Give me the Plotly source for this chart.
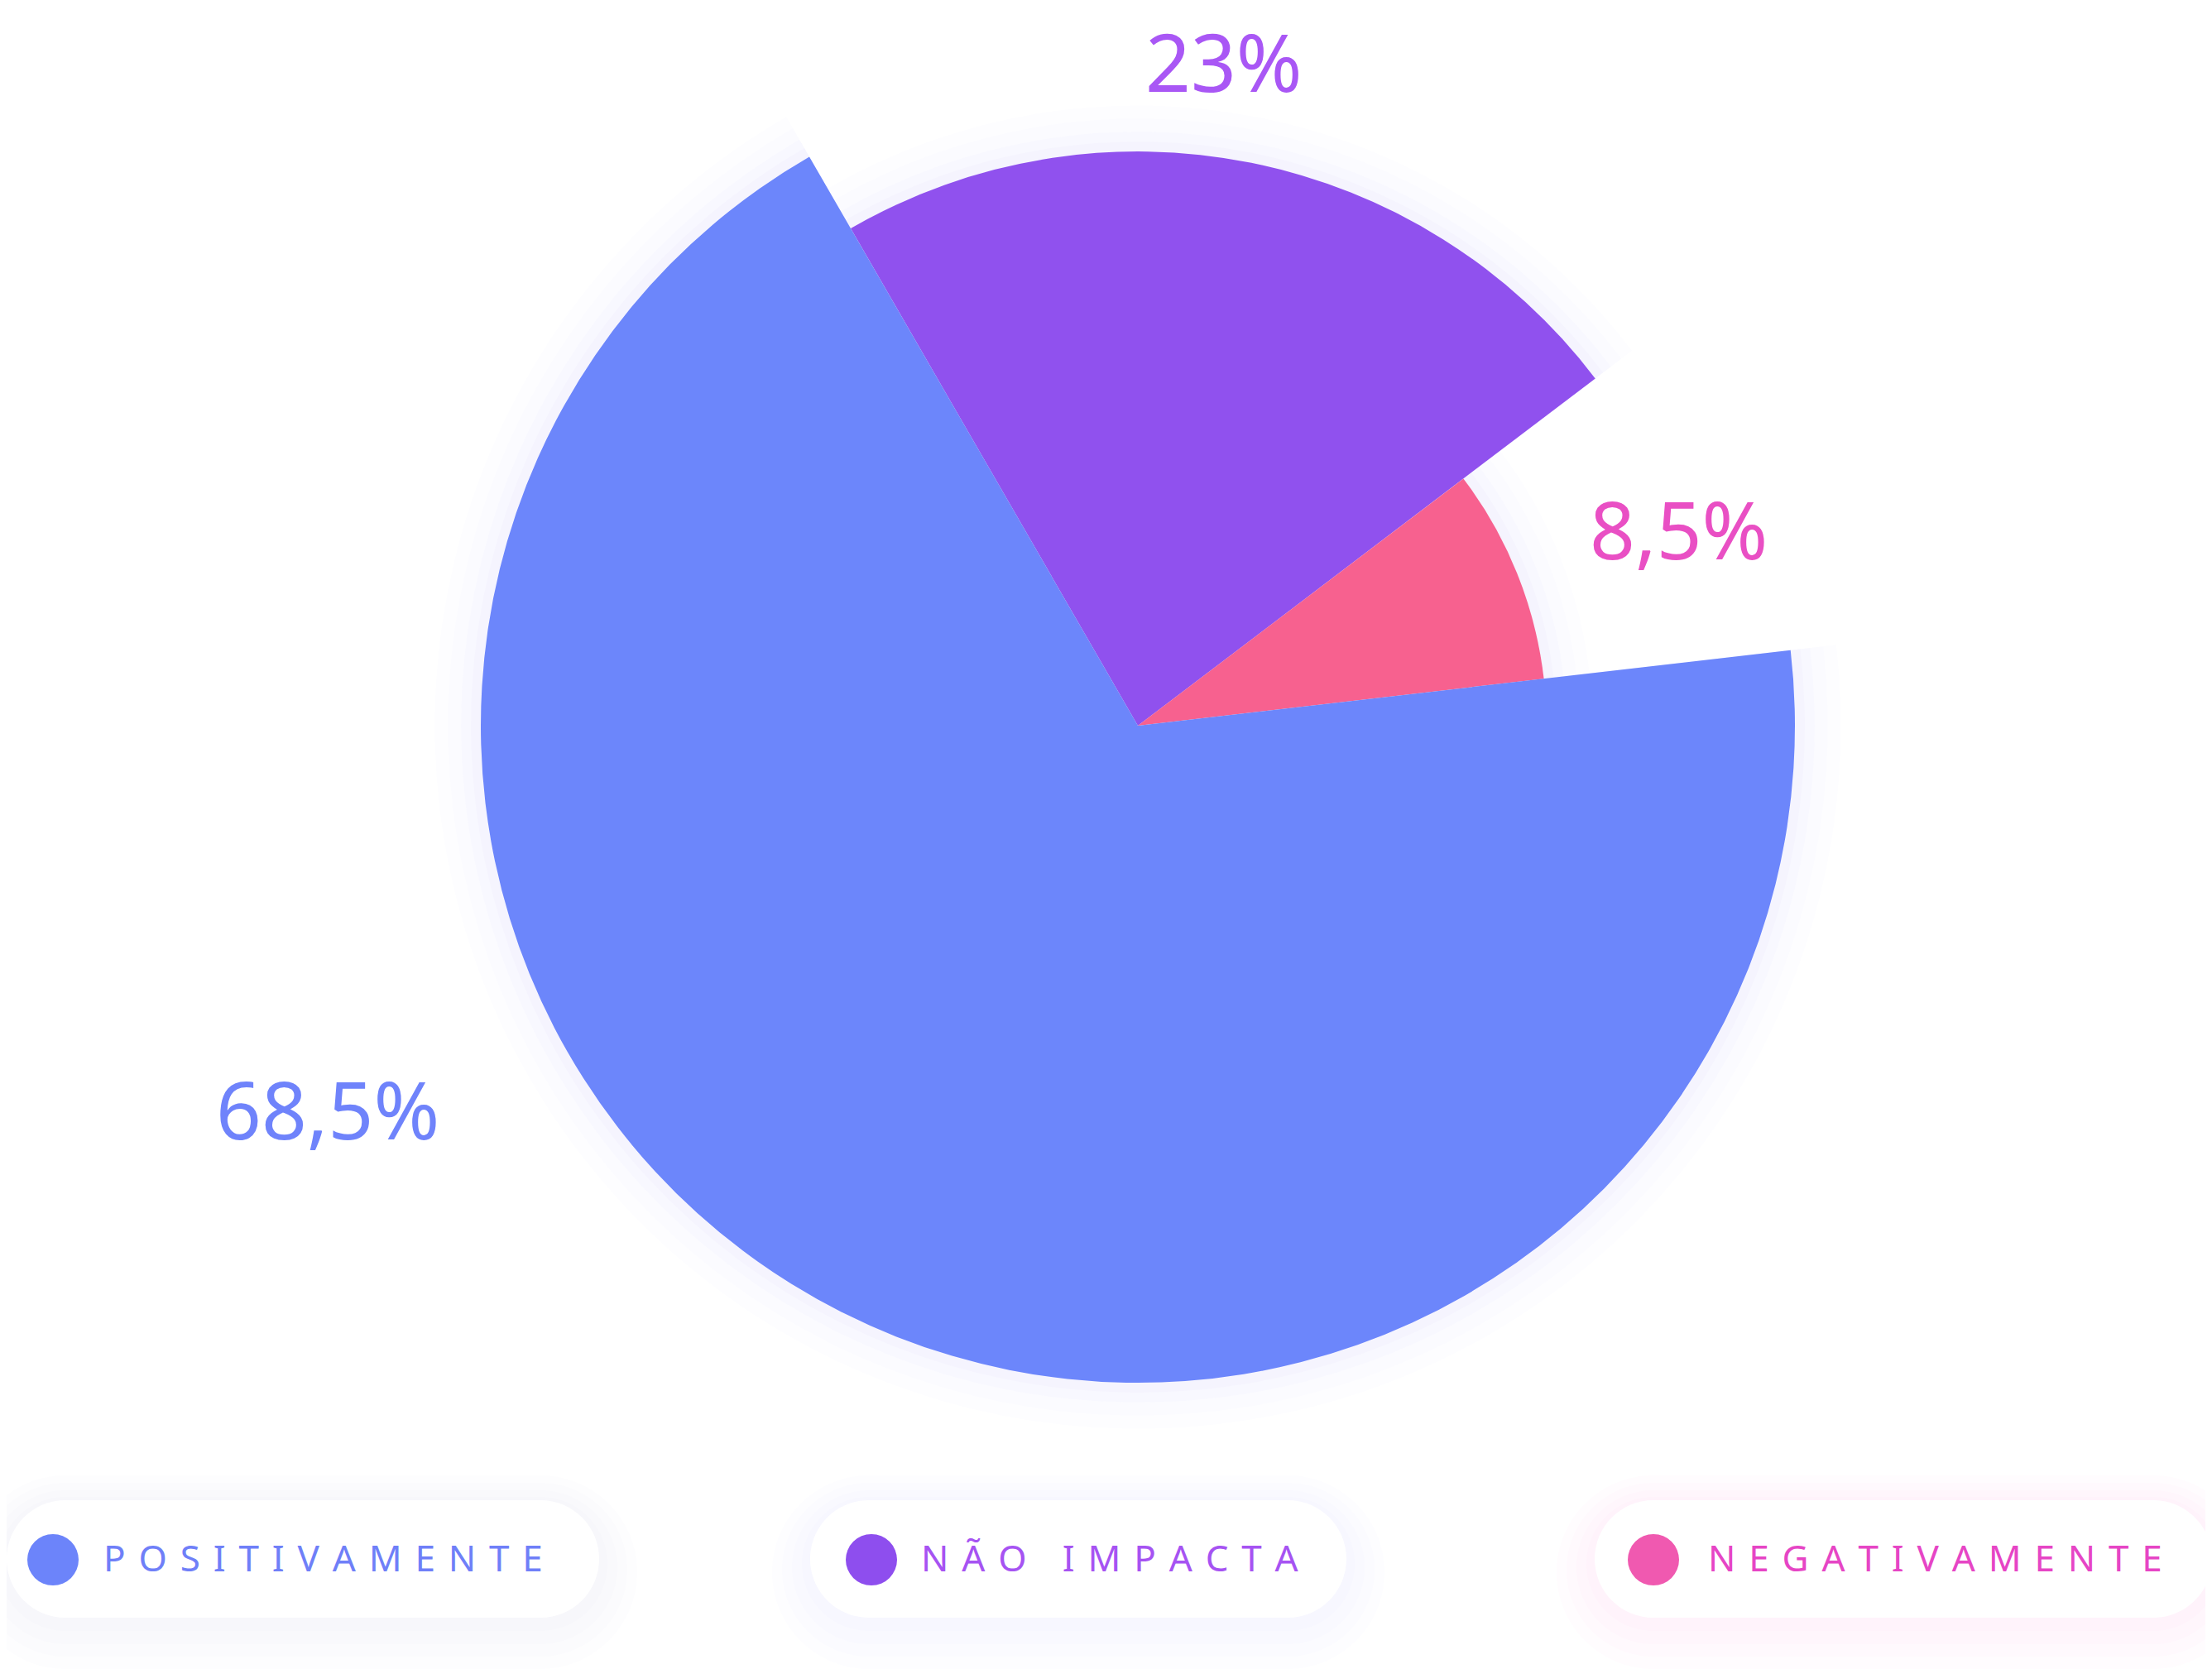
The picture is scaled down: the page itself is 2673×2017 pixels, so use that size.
import plotly.graph_objects as go

# ---------------- data ----------------
categories = ["NÃO IMPACTA", "NEGATIVAMENTE", "POSITIVAMENTE"]
shares = [23.0, 8.5, 68.5]                 # percent
value_labels = ["23%", "8,5%", "68,5%"]
slice_radius = [0.874, 0.622, 1.0]         # relative outer radius of each slice
slice_colors = ["#9051EE", "#F7618F", "#6C86FB"]
label_colors = ["#A957F5", "#E94FC4", "#6F83FB"]
legend_order = ["POSITIVAMENTE", "NÃO IMPACTA", "NEGATIVAMENTE"]
legend_text_colors = ["#6F7FF8", "#A653F2", "#E645C5"]
legend_dot_colors = ["#6C84FA", "#8E4EEE", "#F059B0"]
legend_shadow_colors = ["rgba(110,110,220,0.014)", "rgba(130,100,230,0.014)", "rgba(235,80,190,0.014)"]

W, H = 2673, 2017
CX, CY, R = 1367, 869, 794   # pixel geometry of the pie
RMAX = 1.08                  # radial range (room for halo)


def P(x, y):
    return x / W, 1 - y / H


# angular positions from shares
widths = [s * 360 / 100 for s in shares]
centers = []
acc = 0
for w in widths:
    centers.append(acc + w / 2)
    acc += w

fig = go.Figure()
# soft halo following the slices
for grow, op in [(0.07, 0.012), (0.05, 0.016), (0.03, 0.02), (0.015, 0.025)]:
    fig.add_trace(go.Barpolar(
        r=[v + grow for v in slice_radius],
        theta=centers,
        width=widths,
        marker=dict(color=f"rgba(110,100,230,{op})", line=dict(width=0)),
        hoverinfo="skip",
        showlegend=False,
    ))
fig.add_trace(go.Barpolar(
    r=slice_radius,
    theta=centers,
    width=widths,
    marker=dict(color=slice_colors, line=dict(width=0)),
    hoverinfo="skip",
    showlegend=False,
))

shapes = []


def pill(x0, y0, x1, y1):
    r = (y1 - y0) / 2
    k = 0.5523 * r

    def f(x, y):
        a, b = P(x, y)
        return f"{a:.6f},{b:.6f}"
    d = f"M {f(x0 + r, y0)} L {f(x1 - r, y0)} "
    d += f"C {f(x1 - r + k, y0)} {f(x1, y0 + r - k)} {f(x1, y0 + r)} "
    d += f"C {f(x1, y0 + r + k)} {f(x1 - r + k, y1)} {f(x1 - r, y1)} "
    d += f"L {f(x0 + r, y1)} "
    d += f"C {f(x0 + r - k, y1)} {f(x0, y0 + r + k)} {f(x0, y0 + r)} "
    d += f"C {f(x0, y0 + r - k)} {f(x0 + r - k, y0)} {f(x0 + r, y0)} Z"
    return d


pill_x = [(0, 716), (971, 1619), (1919, 2665)]
dot_x = [56, 1045, 1990]
text_x = [115, 1103, 2054]
PY0, PY1, PYC = 1805, 1947, 1877

annotations = []
for i, (a, b) in enumerate(pill_x):
    for grow, off in [(46, 16), (34, 13), (22, 10), (10, 6)]:
        shapes.append(dict(type="path", xref="paper", yref="paper",
                           path=pill(a - grow, PY0 - grow + off, b + grow, PY1 + grow + off),
                           fillcolor=legend_shadow_colors[i], line=dict(width=0), layer="below"))
    shapes.append(dict(type="path", xref="paper", yref="paper", path=pill(a, PY0, b, PY1),
                       fillcolor="white", line=dict(width=0), layer="below"))
    x0, y1 = P(dot_x[i] - 31, PYC - 31)
    x1, y0 = P(dot_x[i] + 31, PYC + 31)
    shapes.append(dict(type="circle", xref="paper", yref="paper", x0=x0, x1=x1, y0=y0, y1=y1,
                       fillcolor=legend_dot_colors[i], line=dict(width=0), layer="above"))
    tx, ty = P(text_x[i], PYC - 3)
    spaced = " \u200a".join(legend_order[i])
    annotations.append(dict(x=tx, y=ty, xref="paper", yref="paper", xanchor="left", yanchor="middle",
                            text=spaced, showarrow=False,
                            font=dict(family="Noto Sans", size=44, color=legend_text_colors[i])))

# value labels
label_pos = [(1471, 66), (2020, 630), (388, 1331)]
for i, lab in enumerate(value_labels):
    lx, ly = P(*label_pos[i])
    annotations.append(dict(x=lx, y=ly, xref="paper", yref="paper", xanchor="center", yanchor="middle",
                            text=lab, showarrow=False,
                            font=dict(family="Noto Sans", size=96, color=label_colors[i])))

RD = R * RMAX
dx0, dy1 = P(CX - RD, CY - RD)
dx1, dy0 = P(CX + RD, CY + RD)

fig.update_layout(
    width=W, height=H,
    margin=dict(l=0, r=0, t=0, b=0),
    paper_bgcolor="white",
    showlegend=False,
    polar=dict(
        domain=dict(x=[dx0, dx1], y=[dy0, dy1]),
        bgcolor="rgba(0,0,0,0)",
        barmode="overlay",
        bargap=0,
        hole=0,
        radialaxis=dict(visible=False, range=[0, RMAX], showgrid=False),
        angularaxis=dict(visible=False, rotation=120, direction="clockwise", showgrid=False),
    ),
    shapes=shapes,
    annotations=annotations,
)

fig.write_html("out.html")
